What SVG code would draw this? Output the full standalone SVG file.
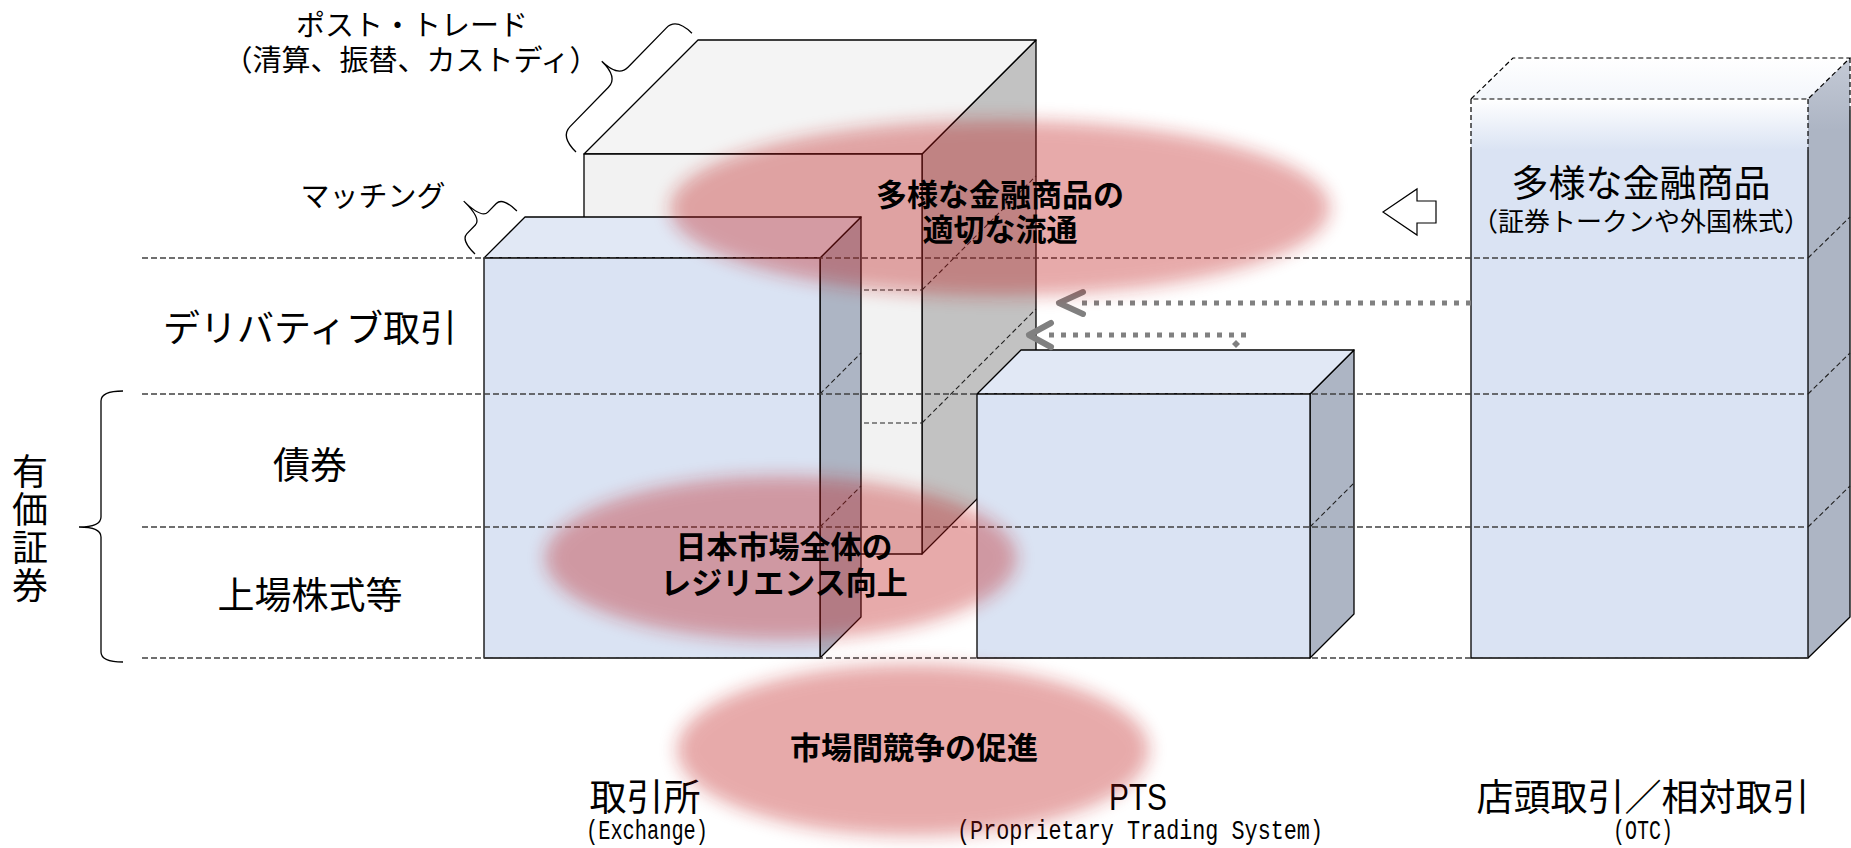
<svg xmlns="http://www.w3.org/2000/svg" width="1851" height="848" viewBox="0 0 1851 848">
<style>
 .edge{stroke:#000;stroke-width:1.3;stroke-linejoin:round}
 .grid{stroke:#404040;stroke-width:1.3;stroke-dasharray:6 3;fill:none}
 .sgrid{stroke:#202020;stroke-width:1.1;stroke-dasharray:5 3;fill:none}
 .dash{stroke:#000;stroke-width:1.2;stroke-dasharray:5 3;fill:none}
 .jp{font-family:"Noto Sans CJK JP","Noto Sans",sans-serif;fill:#000}
 .jp2{font-family:"Liberation Sans","Noto Sans CJK JP",sans-serif;fill:#000}
 .lbl{font-size:37px;text-anchor:middle}
 .sm{font-size:29px;text-anchor:middle}
 .bold{font-size:31px;font-weight:700;text-anchor:middle}
 .mono{font-family:"Liberation Mono",monospace;font-size:27px;text-anchor:middle;fill:#000}
 .bf{fill:#DAE3F3} .bt{fill:#E1E8F5} .bs{fill:#ADB5C4}
 .gf{fill:#F2F2F2} .gt{fill:#F4F4F4} .gs{fill:#C2C2C2}
 .glow{fill:#BE1414;opacity:0.36;filter:url(#blur)}
 .dot{stroke:#808080;stroke-width:5;stroke-dasharray:5 7;fill:none}
 .head{stroke:#808080;stroke-width:6;stroke-linecap:round;stroke-linejoin:round;fill:none}
 .brace{stroke:#000;stroke-width:1.3;fill:none}
</style>
<defs>
 <filter id="blur" x="-20%" y="-40%" width="140%" height="180%"><feGaussianBlur stdDeviation="9"/></filter>
 <linearGradient id="otcF" gradientUnits="userSpaceOnUse" x1="0" y1="99" x2="0" y2="150"><stop offset="0" stop-color="#FFFFFF"/><stop offset="1" stop-color="#DAE3F3"/></linearGradient>
 <linearGradient id="otcT" gradientUnits="userSpaceOnUse" x1="0" y1="58" x2="0" y2="99"><stop offset="0" stop-color="#FFFFFF"/><stop offset="1" stop-color="#F3F6FB"/></linearGradient>
 <linearGradient id="otcS" gradientUnits="userSpaceOnUse" x1="0" y1="58" x2="0" y2="130"><stop offset="0" stop-color="#C4CAD6"/><stop offset="1" stop-color="#ADB5C4"/></linearGradient>
</defs>
<rect width="1851" height="848" fill="#FFFFFF"/>

<g id="posttrade">
 <polygon class="gs edge" points="922,154 1036,40 1036,440 922,554"/>
 <polygon class="gt edge" points="584,154 698,40 1036,40 922,154"/>
 <rect class="gf edge" x="584" y="154" width="338" height="400"/>
 <line class="sgrid" x1="584" y1="290" x2="922" y2="290"/>
 <line class="sgrid" x1="584" y1="423" x2="922" y2="423"/>
 <line class="sgrid" x1="922" y1="290" x2="1036" y2="176"/>
 <line class="sgrid" x1="922" y1="423" x2="1036" y2="309"/>
</g>

<g id="exchange">
 <polygon class="bs edge" points="820,258 861,217 861,617 820,658"/>
 <polygon class="bt edge" points="484,258 525,217 861,217 820,258"/>
 <rect class="bf edge" x="484" y="258" width="336" height="400"/>
 <line class="sgrid" x1="820" y1="394" x2="861" y2="353"/>
 <line class="sgrid" x1="820" y1="527" x2="861" y2="486"/>
</g>

<g id="pts">
 <polygon class="bs edge" points="1310,394 1354,350 1354,614 1310,658"/>
 <polygon class="bt edge" points="977,394 1021,350 1354,350 1310,394"/>
 <rect class="bf edge" x="977" y="394" width="333" height="264"/>
 <line class="sgrid" x1="1310" y1="527" x2="1354" y2="483"/>
</g>

<g id="otc">
 <polygon fill="url(#otcS)" points="1808,99 1850,58 1850,617 1808,658"/>
 <polygon fill="url(#otcT)" points="1471,99 1513,58 1850,58 1808,99"/>
 <rect fill="url(#otcF)" x="1471" y="99" width="337" height="559"/>
 <polygon class="dash" points="1471,99 1513,58 1850,58 1808,99"/>
 <line class="dash" x1="1471" y1="99" x2="1471" y2="150"/>
 <line class="dash" x1="1808" y1="99" x2="1808" y2="150"/>
 <line class="dash" x1="1850" y1="58" x2="1850" y2="110"/>
 <polyline class="edge" fill="none" points="1471,150 1471,658 1808,658 1808,150"/>
 <polyline class="edge" fill="none" points="1808,658 1850,617 1850,110"/>
 <line class="sgrid" x1="1808" y1="258" x2="1850" y2="217"/>
 <line class="sgrid" x1="1808" y1="394" x2="1850" y2="353"/>
 <line class="sgrid" x1="1808" y1="527" x2="1850" y2="486"/>
 <text class="jp2 lbl" x="1641" y="197">多様な金融商品<tspan x="1641" y="231" font-size="26">（証券トークンや外国株式）</tspan></text>
</g>

<g id="gridlines">
 <line class="grid" x1="142" y1="258" x2="1808" y2="258"/>
 <line class="grid" x1="142" y1="394" x2="1808" y2="394"/>
 <line class="grid" x1="142" y1="527" x2="1808" y2="527"/>
 <line class="grid" x1="142" y1="658" x2="1808" y2="658"/>
</g>

<g id="connectors">
 <polygon fill="#FFFFFF" stroke="#000" stroke-width="1.2" points="1383,212 1417,189 1417,201 1436,201 1436,223 1417,223 1417,235"/>
 <line class="dot" x1="1471" y1="303" x2="1076" y2="303"/>
 <polyline class="head" points="1083,292 1059,303 1083,314"/>
 <line class="dot" x1="1246" y1="335" x2="1046" y2="335"/>
 <polyline class="head" points="1051,323 1029,335 1051,347"/>
 <polygon fill="#808080" points="1236,340 1240,344 1236,348 1232,344"/>
</g>

<g id="braces">
 <path class="brace" d="M123,391 Q101,391 101,401 L101,517 Q101,527 79,527 Q101,527 101,537 L101,652 Q101,662 123,662"/>
 <path class="brace" transform="translate(576,152) rotate(-45.7)" d="M0,0 Q0,-22 14,-22 L69,-22 Q83,-22 83,-45 Q83,-22 97,-22 L152,-22 Q166,-22 166,0"/>
 <path class="brace" transform="translate(475,254) rotate(-45.7)" d="M0,0 Q0,-20 9,-20 L21,-20 Q30,-20 30,-45 Q30,-20 39,-20 L51,-20 Q60,-20 60,0"/>
</g>

<g id="labels">
 <text class="jp2 sm" x="412" y="36">ポスト・トレード<tspan x="411" y="71">（清算、振替、カストディ）</tspan></text>
 <text class="jp sm" x="373" y="207">マッチング</text>
 <text class="jp lbl" x="310" y="342">デリバティブ取引</text>
 <text class="jp lbl" x="310" y="479">債券</text>
 <text class="jp lbl" x="310" y="609">上場株式等</text>
 <text class="jp" x="30" y="453" font-size="36" style="writing-mode:vertical-rl" letter-spacing="2">有価証券</text>
 <text class="jp2 lbl" x="645" y="811">取引所</text>
 <text class="mono" x="647" y="839" textLength="122" lengthAdjust="spacingAndGlyphs">(Exchange)</text>
 <text class="jp2 lbl" x="1138" y="810" textLength="58" lengthAdjust="spacingAndGlyphs">PTS</text>
 <text class="mono" x="1140" y="839" textLength="366" lengthAdjust="spacingAndGlyphs">(Proprietary Trading System)</text>
 <text class="jp2 lbl" x="1643" y="811">店頭取引／相対取引</text>
 <text class="mono" x="1643" y="839" textLength="60" lengthAdjust="spacingAndGlyphs">(OTC)</text>
</g>

<g id="goals">
 <ellipse class="glow" cx="1000" cy="208" rx="330" ry="88"/>
 <ellipse class="glow" cx="781" cy="558" rx="236" ry="82"/>
 <ellipse class="glow" cx="913" cy="750" rx="236" ry="86"/>
 <text class="jp2 bold" x="1000" y="206">多様な金融商品の<tspan x="1000" y="241">適切な流通</tspan></text>
 <text class="jp2 bold" x="784" y="558">日本市場全体の<tspan x="784" y="594">レジリエンス向上</tspan></text>
 <text class="jp bold" x="914" y="759">市場間競争の促進</text>
</g>
</svg>
